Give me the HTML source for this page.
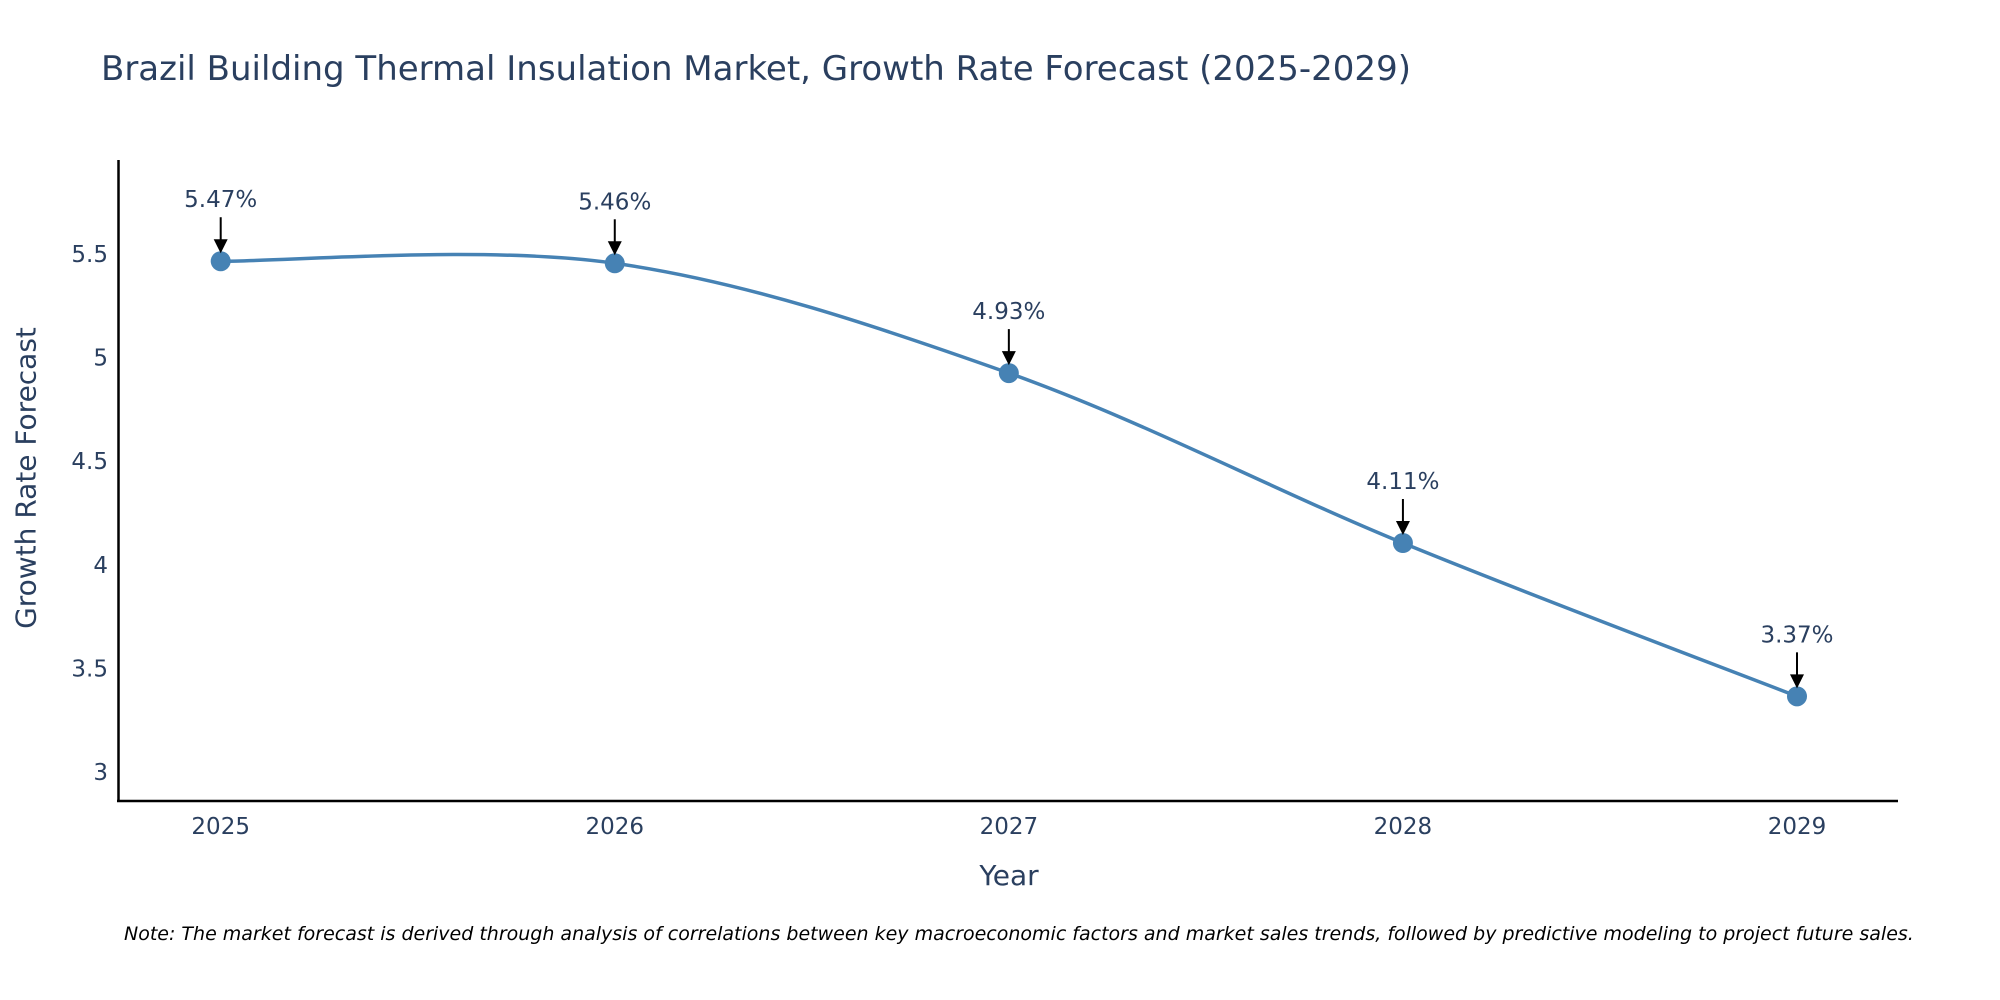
<!DOCTYPE html>
<html><head><meta charset="utf-8"><style>
html,body{margin:0;padding:0;background:#fff;}
svg{display:block;font-family:"DejaVu Sans","Liberation Sans",sans-serif;}
</style></head><body>
<svg id="chart" width="2000" height="1000" viewBox="0 0 2000 1000">
<text x="101" y="80" font-size="34" fill="#2a3f5f">Brazil Building Thermal Insulation Market, Growth Rate Forecast (2025-2029)</text>
<g id="yticks"></g>
<g id="xticks"></g>
<line x1="118.5" y1="160" x2="118.5" y2="802" stroke="#000" stroke-width="2.5"/>
<line x1="117" y1="801" x2="1898" y2="801" stroke="#000" stroke-width="2.5"/>
<path id="line" fill="none" stroke="#4682b4" stroke-width="3.5"/>
<g id="points"></g>
<g id="annots"></g>
<text x="26" y="478" font-size="28" fill="#2a3f5f" text-anchor="middle" transform="rotate(-90 26 478)" dominant-baseline="central">Growth Rate Forecast</text>
<text x="1009" y="885" font-size="28" fill="#2a3f5f" text-anchor="middle">Year</text>
<text x="124" y="940" font-size="19" font-style="italic" fill="#000">Note: The market forecast is derived through analysis of correlations between key macroeconomic factors and market sales trends, followed by predictive modeling to project future sales.</text>
</svg>
<script>
const years = ["2025","2026","2027","2028","2029"];
const values = [5.47, 5.46, 4.93, 4.11, 3.37];
const labels = ["5.47%","5.46%","4.93%","4.11%","3.37%"];
const yTicks = [3, 3.5, 4, 4.5, 5, 5.5];
const yTickLabels = ["3","3.5","4","4.5","5","5.5"];
const NS="http://www.w3.org/2000/svg";
function xs(i){return 220.7+i*(1797-220.7)/4;}
function ys(v){return 773+(v-3)*(255-773)/2.5;}
function mk(t,a,p){const e=document.createElementNS(NS,t);for(const k in a)e.setAttribute(k,a[k]);p.appendChild(e);return e;}
const yt=document.getElementById('yticks');
yTicks.forEach((v,i)=>{const t=mk('text',{x:108,y:ys(v),'font-size':23,fill:'#2a3f5f','text-anchor':'end','dominant-baseline':'central'},yt);t.textContent=yTickLabels[i];

});
const xt=document.getElementById('xticks');
years.forEach((y,i)=>{const t=mk('text',{x:xs(i),y:834,'font-size':23,fill:'#2a3f5f','text-anchor':'middle'},xt);t.textContent=y;

});
const P=values.map((v,i)=>[xs(i),ys(v)]);
let d='M'+P[0][0]+','+P[0][1];
for(let i=0;i<P.length-1;i++){const p0=P[Math.max(i-1,0)],p1=P[i],p2=P[i+1],p3=P[Math.min(i+2,P.length-1)];const s=1/6;
d+=' C'+(p1[0]+(p2[0]-p0[0])*s)+','+(p1[1]+(p2[1]-p0[1])*s)+' '+(p2[0]-(p3[0]-p1[0])*s)+','+(p2[1]-(p3[1]-p1[1])*s)+' '+p2[0]+','+p2[1];}
document.getElementById('line').setAttribute('d',d);
const pg=document.getElementById('points'),ag=document.getElementById('annots');
P.forEach((p,i)=>{const c=mk('circle',{cx:p[0],cy:p[1],r:10,fill:'#4682b4'},pg);


const l=mk('line',{x1:p[0],y1:p[1]-44,x2:p[0],y2:p[1]-20,stroke:'#000','stroke-width':2},ag);


const h=mk('polygon',{points:(p[0]-7)+','+(p[1]-22)+' '+(p[0]+7)+','+(p[1]-22)+' '+p[0]+','+(p[1]-8),fill:'#000'},ag);


const t=mk('text',{x:p[0],y:p[1]-54,'font-size':23,fill:'#2a3f5f','text-anchor':'middle'},ag);t.textContent=labels[i];

});
</script>
</body></html>
